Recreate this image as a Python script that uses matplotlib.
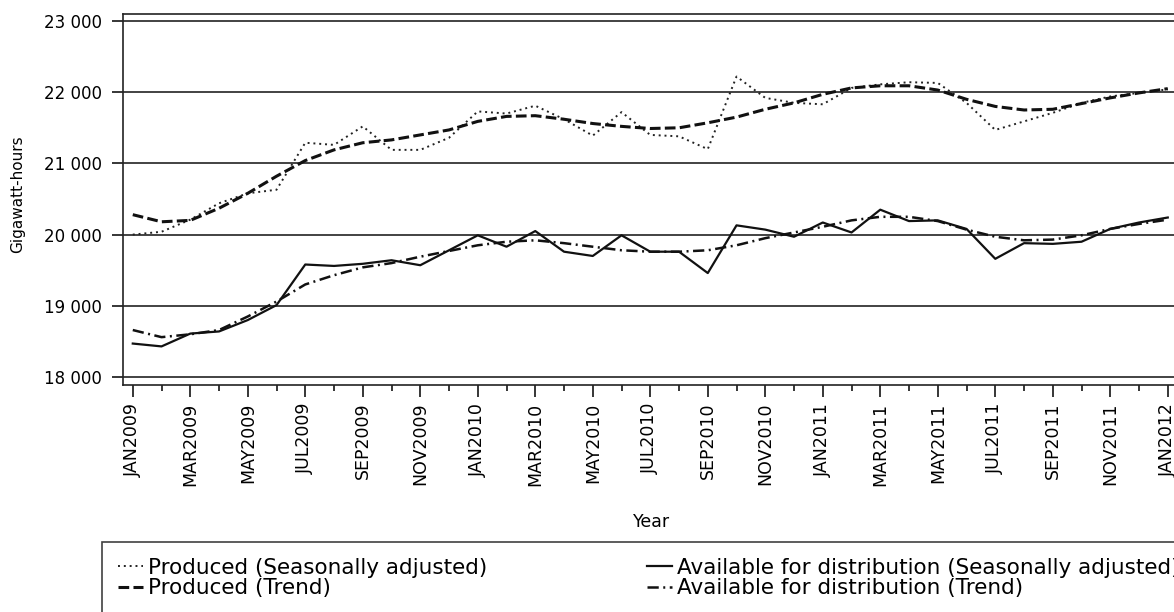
import matplotlib
matplotlib.use('Agg')
import matplotlib.pyplot as plt
from matplotlib.ticker import FixedLocator, MultipleLocator, FuncFormatter

# Monthly electricity figures, JAN2009 .. JAN2012 (gigawatt-hours)
produced_sa = [20000, 20040, 20210, 20440, 20580, 20630, 21290, 21260, 21520,
               21190, 21190, 21360, 21730, 21700, 21810, 21620, 21390, 21720,
               21400, 21380, 21200, 22220, 21920, 21850, 21830, 22060, 22110,
               22140, 22130, 21850, 21470, 21590, 21710, 21850, 21940, 21990,
               22040]
produced_trend = [20280, 20180, 20200, 20370, 20580, 20820, 21040, 21190, 21290,
                  21330, 21400, 21470, 21590, 21660, 21670, 21620, 21560, 21520,
                  21490, 21500, 21570, 21650, 21760, 21850, 21970, 22060, 22090,
                  22090, 22030, 21900, 21800, 21750, 21760, 21840, 21920, 21990,
                  22050]
available_sa = [18470, 18430, 18610, 18640, 18800, 19010, 19580, 19560, 19590,
                19640, 19570, 19780, 19990, 19830, 20050, 19760, 19700, 19990,
                19760, 19760, 19460, 20130, 20070, 19970, 20170, 20030, 20350,
                20190, 20200, 20080, 19660, 19880, 19870, 19900, 20080, 20170,
                20240]
available_trend = [18660, 18560, 18600, 18660, 18850, 19060, 19300, 19430, 19540,
                   19600, 19690, 19770, 19850, 19900, 19920, 19880, 19830, 19780,
                   19760, 19760, 19780, 19850, 19950, 20030, 20110, 20200, 20250,
                   20250, 20190, 20070, 19970, 19920, 19930, 19990, 20080, 20150,
                   20210]

tick_labels = ['JAN2009', 'MAR2009', 'MAY2009', 'JUL2009', 'SEP2009', 'NOV2009',
               'JAN2010', 'MAR2010', 'MAY2010', 'JUL2010', 'SEP2010', 'NOV2010',
               'JAN2011', 'MAR2011', 'MAY2011', 'JUL2011', 'SEP2011', 'NOV2011',
               'JAN2012']

months = list(range(len(produced_sa)))

fig = plt.figure(figsize=(11.74, 6.12), dpi=100)
# the plot area runs past the right edge of the picture, as in the original
ax = fig.add_axes([123 / 1174, 1 - 385 / 612, 1058 / 1174, 371 / 612])

ax.plot(months, produced_sa, color='#222222', lw=1.4, linestyle=(0, (1, 2.0)),
        label='Produced (Seasonally adjusted)')
ax.plot(months, produced_trend, color='#111111', lw=2.2, linestyle=(0, (3.5, 1.4)),
        label='Produced (Trend)')
ax.plot(months, available_sa, color='#111111', lw=1.6, linestyle='-',
        label='Available for distribution (Seasonally adjusted)')
ax.plot(months, available_trend, color='#111111', lw=1.8, linestyle=(0, (4.5, 1.8, 0.8, 1.8)),
        label='Available for distribution (Trend)')

ax.set_xlim(-0.34, 36.46)
ax.set_ylim(17888, 23098)

ax.yaxis.set_major_locator(FixedLocator([18000, 19000, 20000, 21000, 22000, 23000]))
ax.yaxis.set_major_formatter(FuncFormatter(lambda v, p: f'{v:,.0f}'.replace(',', ' ')))
ax.xaxis.set_major_locator(FixedLocator(range(0, 37, 2)))
ax.xaxis.set_minor_locator(MultipleLocator(1))
ax.set_xticklabels(tick_labels, rotation=90)

ax.grid(axis='y', color='#222222', lw=1.2)
ax.set_axisbelow(True)
for s in ax.spines.values():
    s.set_linewidth(1.2)
    s.set_color('#222222')

ax.tick_params(axis='y', length=8, width=1.1, pad=7, labelsize=12)
ax.tick_params(axis='x', which='major', length=8.5, width=1.1, pad=4.3, labelsize=12.5)
ax.tick_params(axis='x', which='minor', length=4.3, width=1.1)

ax.set_ylabel('Gigawatt-hours', fontsize=11)
ax.yaxis.set_label_coords((25 - 123) / 1058, 0.5 + 5 / 371)
ax.set_xlabel('Year', fontsize=12.5)
ax.xaxis.set_label_coords(0.5, (385 - 513) / 371)

# legend box also runs off the right and bottom edges in the original
leg = fig.legend(loc='upper left', bbox_to_anchor=(102 / 1174, 1 - 541.5 / 612),
                 ncol=2, fontsize=15.5, frameon=True, fancybox=False,
                 edgecolor='#111111', handlelength=1.16, handletextpad=0.23,
                 columnspacing=7.4, borderpad=0.75, labelspacing=0.02,
                 borderaxespad=0)
leg.get_frame().set_linewidth(1.2)

fig.savefig('out.png', dpi=100)
